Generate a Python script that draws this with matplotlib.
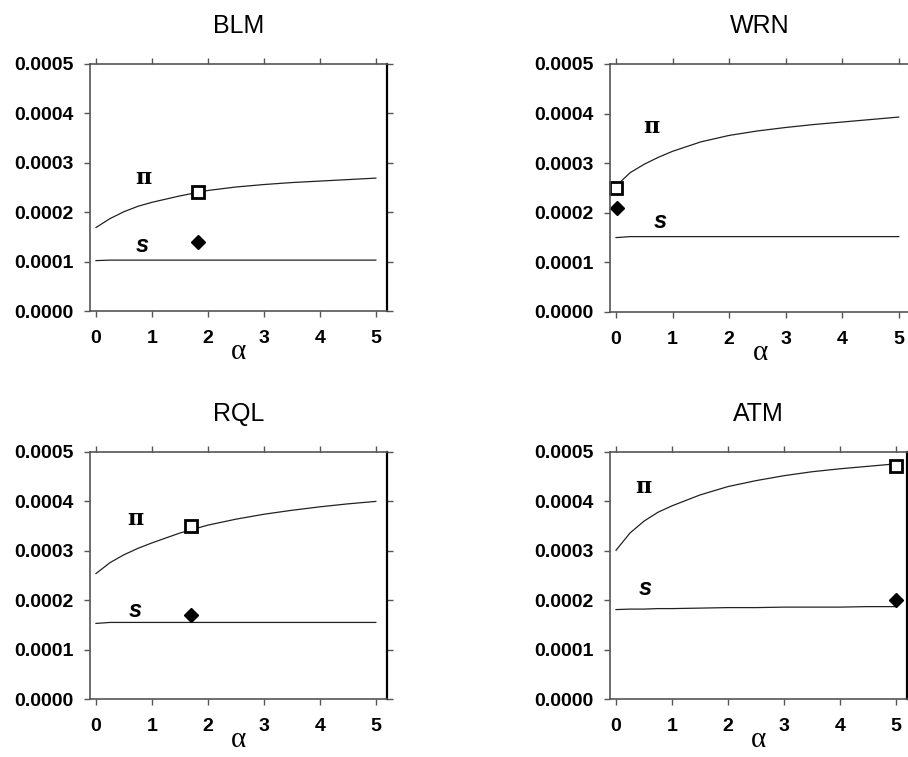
import matplotlib
matplotlib.use("Agg")
import matplotlib.pyplot as plt

plt.rcParams['font.family'] = ['Liberation Sans', 'DejaVu Sans']

names = ["BLM", "WRN", "RQL", "ATM"]
alpha = [0, 0.25, 0.5, 0.75, 1, 1.5, 2, 2.5, 3, 3.5, 4, 4.5, 5]

# pi curves
pi_blm = [0.000169, 0.000187, 0.000201, 0.000212, 0.000220, 0.000233, 0.000244,
          0.000251, 0.000256, 0.000260, 0.000263, 0.000266, 0.000269]
pi_wrn = [0.000254, 0.000281, 0.000298, 0.000312, 0.000324, 0.000343, 0.000356,
          0.000365, 0.000372, 0.000378, 0.000383, 0.000388, 0.000393]
pi_rql = [0.000254, 0.000276, 0.000292, 0.000305, 0.000316, 0.000336, 0.000352,
          0.000364, 0.000374, 0.000382, 0.000389, 0.000395, 0.000400]
pi_atm = [0.000301, 0.000336, 0.000360, 0.000378, 0.000391, 0.000413, 0.000430,
          0.000442, 0.000452, 0.000460, 0.000466, 0.000471, 0.000476]

# s lines
s_blm = [0.000102] + [0.000103] * 12
s_wrn = [0.000150] + [0.000152] * 12
s_rql = [0.000153] + [0.000155] * 12
s_atm = [0.000181, 0.000182, 0.000182, 0.000183, 0.000183, 0.000184, 0.000185,
         0.000185, 0.000186, 0.000186, 0.000186, 0.000187, 0.000187]

# observed points (square = pi, diamond = s)
sq_x = [1.82, 0.0, 1.70, 5.0]
sq_y = [0.000241, 0.000249, 0.000350, 0.000471]
dm_x = [1.82, 0.02, 1.70, 5.0]
dm_y = [0.000140, 0.000210, 0.000170, 0.000200]

# label positions
pi_lab = [(0.84, 0.000269), (0.63, 0.000373), (0.70, 0.000365), (0.49, 0.000429)]
s_lab = [(0.82, 0.000132), (0.78, 0.000183), (0.70, 0.000180), (0.53, 0.000224)]

pis = [pi_blm, pi_wrn, pi_rql, pi_atm]
ss = [s_blm, s_wrn, s_rql, s_atm]

W, H = 908, 757
fig = plt.figure(figsize=(W / 100, H / 100), dpi=100)
boxes = [(90, 64, 311, 297), (610, 64, 312, 300), (90, 452, 699, 297), (610, 452, 699, 297)]

for i, name in enumerate(names):
    l, t, b, w = boxes[i]
    ax = fig.add_axes([l / W, (H - b) / H, w / W, (b - t) / H])
    ax.plot(alpha, pis[i], color='#222222', lw=0.9)
    ax.plot(alpha, ss[i], color='#222222', lw=0.9)
    ax.plot(sq_x[i], sq_y[i], marker='s', ms=8, mfc='white', mec='black',
            mew=2, clip_on=False)
    ax.plot(dm_x[i], dm_y[i], marker='D', ms=7.5, mfc='black', mec='black',
            clip_on=False)
    ax.text(pi_lab[i][0], pi_lab[i][1], 'π', fontsize=16, fontweight='bold',
            ha='center', va='center', family=['DejaVu Serif'])
    ax.text(s_lab[i][0], s_lab[i][1], 's', fontsize=17, fontweight='bold',
            style='italic', ha='center', va='center')

    ax.set_xlim(-0.107, 5.2)
    ax.set_ylim(0, 0.0005)
    ax.set_xticks([0, 1, 2, 3, 4, 5])
    ax.set_yticks([0, 0.0001, 0.0002, 0.0003, 0.0004, 0.0005])
    ax.set_yticklabels(['%.4f' % v for v in ax.get_yticks()])
    ax.tick_params(direction='out', length=4, width=1, colors='#555555',
                   top=True, right=True, labelsize=14)
    ax.tick_params(axis='x', pad=10)
    ax.tick_params(axis='y', pad=8)
    for lab in ax.get_xticklabels() + ax.get_yticklabels():
        lab.set_fontweight('bold')
        lab.set_color('black')
    for side in ['left', 'bottom', 'top']:
        ax.spines[side].set_color('#555555')
        ax.spines[side].set_linewidth(1.2)
    ax.spines['right'].set_color('black')
    ax.spines['right'].set_linewidth(1.6)
    ax.set_title(name, fontsize=18, pad=22)
    ax.set_xlabel('α', fontsize=21, labelpad=-6,
                  family=['Liberation Serif', 'DejaVu Serif'])

fig.savefig('out.png', dpi=100)
